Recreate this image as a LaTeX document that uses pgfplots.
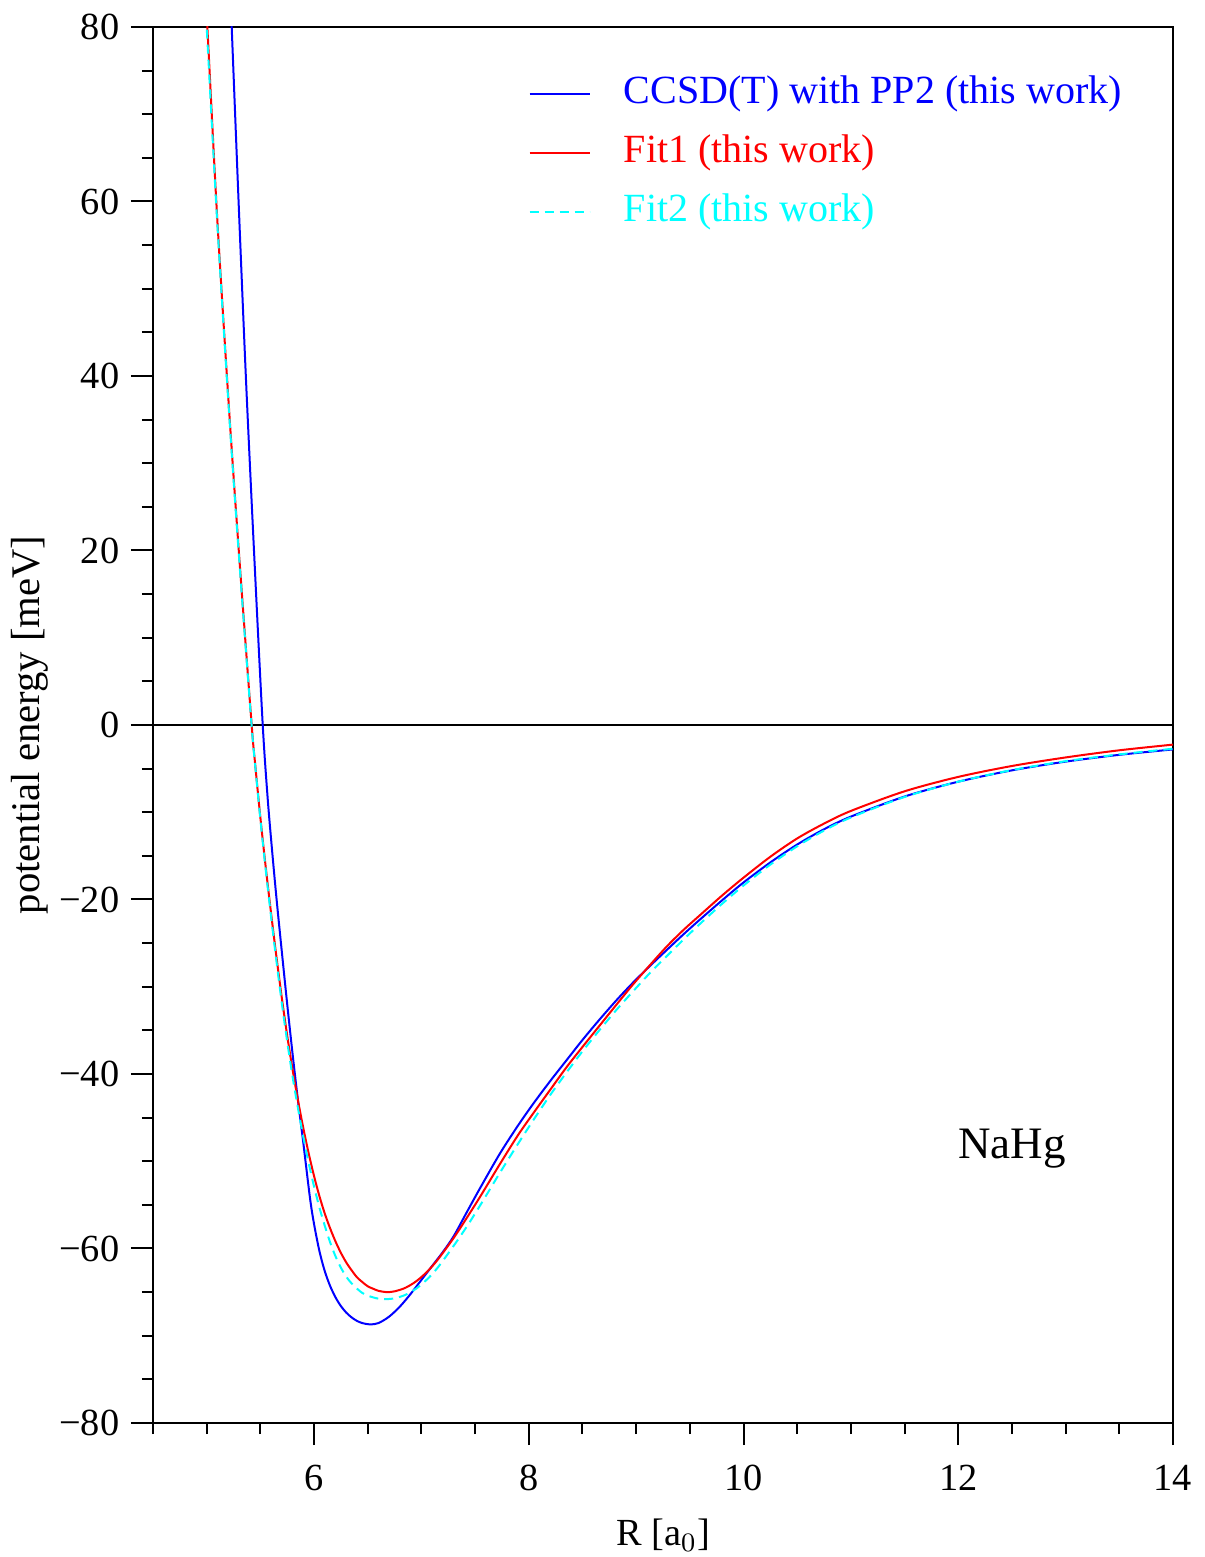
\documentclass[border=0pt]{standalone}
\usepackage{pgfplots}
\pgfplotsset{compat=1.18}
\usepackage{fontspec}
\setmainfont{Liberation Serif}
\definecolor{cBlue}{rgb}{0,0,1}
\definecolor{cRed}{rgb}{1,0,0}
\definecolor{cCyan}{rgb}{0,1,1}
\begin{document}
\begin{tikzpicture}[x=1pt,y=1pt]
\path[use as bounding box] (-45.9,-40.2) rectangle (315.3,426.9);
\begin{axis}[
  at={(0,0)}, anchor=south west,
  scale only axis, width=306pt, height=418.8pt,
  xmin=4.5, xmax=14, ymin=-80, ymax=80,
  xtick={6,8,10,12,14}, minor xtick={4.5,5,5.5,6.5,7,7.5,8.5,9,9.5,10.5,11,11.5,12.5,13,13.5},
  ytick={-80,-60,-40,-20,0,20,40,60,80},
  yticklabels={−80,−60,−40,−20,0,20,40,60,80},
  minor ytick={-75,-70,-65,-55,-50,-45,-35,-30,-25,-15,-10,-5,5,10,15,25,30,35,45,50,55,65,70,75},
  xtick pos=bottom, ytick pos=left,
  tick align=outside,
  major tick length=6.6pt, minor tick length=3.3pt,
  every tick/.style={black, line width=0.6pt},
  axis line style={line width=0.6pt},
  /pgf/number format/assume math mode=true,
  tick label style={font=\fontsize{11.5}{13}\selectfont},
  xticklabel style={yshift=-2.4pt},
  xlabel={R [a$_0$]},
  ylabel={potential energy [meV]},
  every axis x label/.style={at={(axis description cs:0.5,-0.0874)}, anchor=base, font=\fontsize{11.5}{13}\selectfont},
  every axis y label/.style={at={(axis description cs:-0.121,0.5)}, rotate=90, anchor=center, font=\fontsize{12.2}{14}\selectfont},
  legend style={draw=none, fill=none, at={(axis description cs:0.3676,0.9694)}, anchor=north west,
    font=\fontsize{12}{14}\selectfont, row sep=3.7pt, inner sep=0pt,
    nodes={inner sep=1pt, text height=9pt, text depth=3pt},
    /tikz/every odd column/.append style={column sep=9pt}},
  legend cell align=left,
  legend image code/.code={\draw[#1] (0pt,0pt) -- (18pt,0pt);},
]
\draw[line width=0.9pt] (rel axis cs:0,0) -- (rel axis cs:0,1);
\draw[line width=0.9pt] (rel axis cs:0,0) -- (rel axis cs:1,0);
\draw[black, line width=0.45pt] (axis cs:4.5,0) -- (axis cs:14,0);

\addplot[cBlue, line width=0.6pt, smooth] coordinates {
(5.20,90.5) (5.233,80) (5.304,57.9) (5.37,38.5) (5.45,17.6) (5.522,0) (5.568,-8.4)
(5.61,-14.5) (5.652,-20.1) (5.70,-26.0) (5.75,-32.0) (5.80,-37.7) (5.85,-43.0)
(5.90,-47.9) (5.962,-54.2) (6.00,-57.2) (6.05,-60.3) (6.10,-62.6) (6.15,-64.3)
(6.20,-65.6) (6.25,-66.6) (6.30,-67.35) (6.35,-67.9) (6.40,-68.3) (6.45,-68.55)
(6.521,-68.7) (6.60,-68.55) (6.70,-67.8) (6.80,-66.65) (6.90,-65.2) (7.00,-63.6)
(7.10,-62.0) (7.20,-60.4) (7.30,-58.6) (7.42,-55.9) (7.55,-53.0) (7.732,-49.1)
(7.90,-45.9) (8.042,-43.4) (8.20,-40.8) (8.353,-38.4) (8.50,-36.1) (8.663,-33.7)
(8.82,-31.5) (8.973,-29.5) (9.13,-27.6) (9.284,-25.8) (9.44,-24.0) (9.594,-22.3)
(9.80,-20.1) (10,-18.05) (10.25,-15.75) (10.5,-13.7) (10.75,-11.95) (11,-10.5)
(11.5,-8.2) (12,-6.5) (12.5,-5.2) (13,-4.2) (13.5,-3.42) (14,-2.8)};
\addlegendentry{\color{cBlue}CCSD(T) with PP2 (this work)}

\addplot[cRed, line width=0.6pt, smooth] coordinates {
(4.96,90) (5.006,80) (5.099,57.9) (5.213,35.3) (5.310,18.1) (5.419,0) (5.45,-4.3)
(5.50,-10.6) (5.55,-16.3) (5.60,-21.6) (5.65,-26.6) (5.70,-31.3) (5.75,-35.6)
(5.80,-39.5) (5.85,-43.0) (5.90,-46.2) (5.95,-49.1) (6.00,-51.7) (6.05,-54.0)
(6.10,-56.0) (6.15,-57.7) (6.20,-59.2) (6.25,-60.5) (6.30,-61.6) (6.35,-62.5)
(6.40,-63.3) (6.45,-63.85) (6.50,-64.33) (6.55,-64.61) (6.60,-64.85) (6.677,-65.0)
(6.75,-64.91) (6.85,-64.51) (6.95,-63.77) (7.05,-62.70) (7.15,-61.31) (7.30,-58.8)
(7.422,-56.5) (7.55,-54.0) (7.732,-50.3) (7.90,-47.0) (8.042,-44.5) (8.20,-41.8)
(8.353,-39.2) (8.50,-36.9) (8.663,-34.4) (8.82,-32.0) (8.973,-29.7) (9.13,-27.5)
(9.284,-25.4) (9.44,-23.5) (9.594,-21.8) (9.80,-19.55) (10,-17.5) (10.25,-15.1)
(10.5,-13.0) (10.75,-11.3) (11,-9.85) (11.5,-7.6) (12,-5.95) (12.5,-4.7)
(13,-3.72) (13.5,-2.9) (14,-2.25)};
\addlegendentry{\color{cRed}Fit1 (this work)}

\addplot[cCyan, line width=0.6pt, smooth, dash pattern=on 2.7pt off 1.8pt] coordinates {
(4.955,90) (5.0,80) (5.097,57.9) (5.211,35.3) (5.308,18.1) (5.418,0) (5.45,-4.4)
(5.50,-10.8) (5.55,-16.6) (5.60,-22.0) (5.65,-27.1) (5.70,-31.9) (5.75,-36.3)
(5.80,-40.3) (5.85,-43.9) (5.90,-47.2) (5.95,-50.2) (6.00,-52.9) (6.05,-55.3)
(6.10,-57.4) (6.15,-59.3) (6.20,-60.9) (6.25,-62.2) (6.304,-63.3) (6.35,-64.0)
(6.40,-64.6) (6.45,-65.1) (6.50,-65.4) (6.55,-65.6) (6.60,-65.75) (6.677,-65.8)
(6.75,-65.71) (6.85,-65.32) (6.95,-64.61) (7.05,-63.57) (7.15,-62.22) (7.30,-59.7)
(7.422,-57.5) (7.55,-55.0) (7.732,-51.3) (7.90,-48.0) (8.042,-45.3) (8.20,-42.4)
(8.353,-39.8) (8.50,-37.4) (8.663,-34.9) (8.82,-32.6) (8.973,-30.5) (9.13,-28.4)
(9.284,-26.5) (9.44,-24.6) (9.594,-22.8) (9.80,-20.5) (10,-18.4) (10.25,-16.0)
(10.5,-13.9) (10.75,-12.1) (11,-10.6) (11.5,-8.25) (12,-6.5) (12.5,-5.17)
(13,-4.15) (13.5,-3.37) (14,-2.72)};
\addlegendentry{\color{cCyan}Fit2 (this work)}

\node[font=\fontsize{13.5}{15}\selectfont] at (axis cs:12.5,-48.5) {NaHg};
\end{axis}
\end{tikzpicture}
\end{document}
